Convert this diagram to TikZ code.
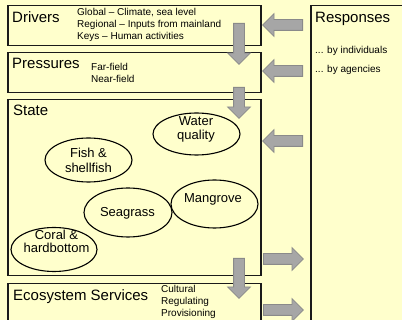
\documentclass[tikz,border=0pt]{standalone}
\usepackage{fontspec}
\setmainfont{Liberation Sans}
\usetikzlibrary{shapes.geometric,shapes.arrows}
\definecolor{bg}{HTML}{FFFFCC}
\definecolor{arrfill}{HTML}{A6A6A6}
\definecolor{arrdraw}{HTML}{8A8A8A}
\definecolor{boxline}{HTML}{1A1A1A}
\begin{document}
\begin{tikzpicture}[x=1pt,y=-1pt,
  panel/.style={draw=boxline, line width=1.5pt, fill=bg, anchor=north west, inner sep=0},
  head/.style={anchor=base west, inner sep=0, font=\fontsize{15}{18}\selectfont},
  small/.style={anchor=base west, inner sep=0, font=\fontsize{10}{12}\selectfont},
  comp/.style={ellipse, draw=black, line width=1.1pt, inner sep=0},
  ctext/.style={anchor=base, inner sep=0, font=\fontsize{13}{15}\selectfont},
  blk/.style={single arrow, draw=arrdraw, fill=arrfill, line width=0.8pt, inner sep=5pt,
    single arrow head extend=6pt, single arrow tip angle=90, minimum height=#1, anchor=tail}
]
\path[fill=bg] (0,0) rectangle (402,320);
\useasboundingbox (0,0) rectangle (402,320);
\clip (0,0) rectangle (402,320);
% panels
\node[panel, minimum width=253pt, minimum height=40pt] (drivers) at (7,5) {};
\node[panel, minimum width=253pt, minimum height=40pt] (pressures) at (7,52) {};
\node[panel, minimum width=253pt, minimum height=176pt] (state) at (7,99) {};
\node[panel, minimum width=253pt, minimum height=50pt] (eco) at (7,283) {};
\node[panel, minimum width=110pt, minimum height=330pt] (resp) at (310,5) {};
% headings and lists
\node[head] (tdrv) at (12,23) {Drivers};
\node[small] (g1) at (77,16) {Global – Climate, sea level};
\node[small] (g2) at (77,28) {Regional – Inputs from mainland};
\node[small] (g3) at (77,39.5) {Keys – Human activities};
\node[head] (tprs) at (12,69) {Pressures};
\node[small] (p1) at (91,70.5) {Far-field};
\node[small] (p2) at (91,82.5) {Near-field};
\node[head] (tst) at (13,116) {State};
\node[head] (teco) at (13,301) {Ecosystem Services};
\node[small] (e1) at (161,293) {Cultural};
\node[small] (e2) at (161,305) {Regulating};
\node[small] (e3) at (161,316.7) {Provisioning};
\node[head] (trsp) at (315,23) {Responses};
\node[small] (r1) at (315,53.5) {... by individuals};
\node[small] (r2) at (315,73) {... by agencies};
% state components
\node[comp, minimum width=87pt, minimum height=42pt] (water) at (196.5,134) {};
\node[ctext] (twater1) at (196,126) {Water};
\node[ctext] (twater2) at (196,140) {quality};
\node[comp, minimum width=87pt, minimum height=44pt] (fish) at (88.5,160) {};
\node[ctext] (tfish1) at (88.5,158) {Fish \&};
\node[ctext] (tfish2) at (88.5,173) {shellfish};
\node[comp, minimum width=87pt, minimum height=48pt] (mang) at (214.5,204) {};
\node[ctext] (tmang) at (213,203) {Mangrove};
\node[comp, minimum width=88pt, minimum height=49pt] (sea) at (128,212.5) {};
\node[ctext] (tsea) at (127.5,217) {Seagrass};
\node[comp, minimum width=86pt, minimum height=44pt] (coral) at (54,249.5) {};
\node[ctext] (tcoral1) at (56.5,240) {Coral \&};
\node[ctext] (tcoral2) at (56.5,253) {hardbottom};
% block arrows
\coordinate (d1) at (239,23);
\coordinate (d2) at (239,87);
\coordinate (d3) at (239,258);
\coordinate (l1) at (303,25);
\coordinate (l2) at (303,71);
\coordinate (l3) at (303,141);
\coordinate (r1s) at (263,259);
\coordinate (r2s) at (263,310);
\node[blk=41pt, rotate=-90] (ad1) at (d1) {};
\node[blk=31pt, rotate=-90] (ad2) at (d2) {};
\node[blk=40pt, rotate=-90] (ad3) at (d3) {};
\node[blk=40pt, rotate=180] (al1) at (l1) {};
\node[blk=40pt, rotate=180] (al2) at (l2) {};
\node[blk=40pt, rotate=180] (al3) at (l3) {};
\node[blk=40pt] (ar1) at (r1s) {};
\node[blk=40pt] (ar2) at (r2s) {};
\end{tikzpicture}
\end{document}
